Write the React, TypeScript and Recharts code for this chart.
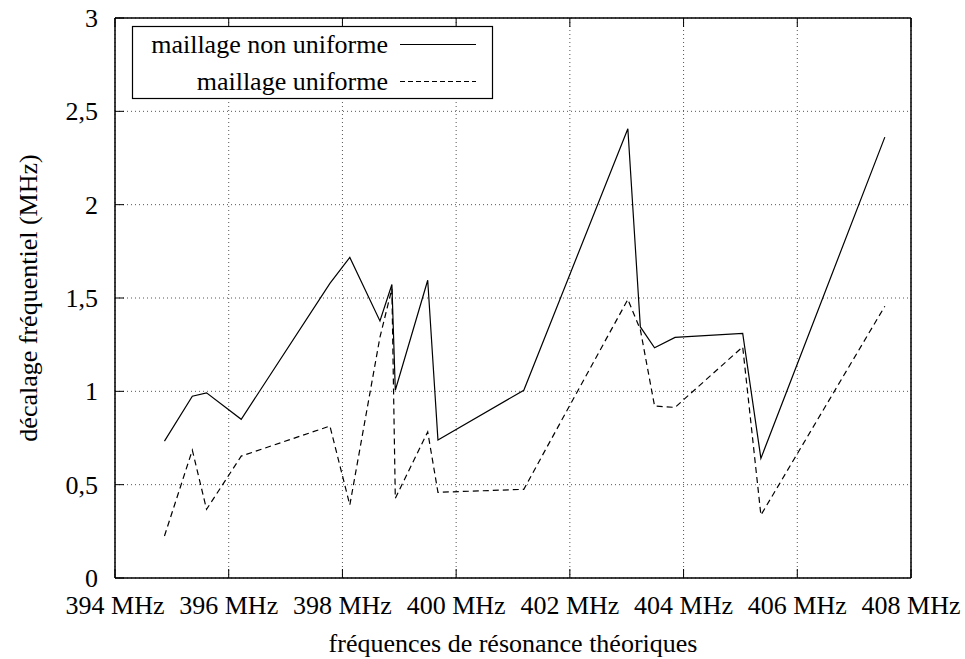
import React from 'react';
import { LineChart, Line, XAxis, YAxis, CartesianGrid } from 'recharts';

const frequencies = [
    394.87, 395.36, 395.61, 396.22, 397.78, 398.13, 398.66, 398.87, 398.93, 399.5,
    399.68, 401.19, 403.02, 403.24, 403.49, 403.85, 405.04, 405.36, 407.54,
];
const nonUniform = [
    0.733, 0.974, 0.992, 0.85, 1.578, 1.717, 1.377, 1.572, 1.006, 1.595,
    0.739, 1.006, 2.407, 1.345, 1.233, 1.289, 1.31, 0.641, 2.362,
];
const uniform = [
    0.225, 0.685, 0.368, 0.653, 0.814, 0.391, 1.29, 1.55, 0.427, 0.783,
    0.459, 0.475, 1.492, 1.33, 0.921, 0.914, 1.238, 0.337, 1.456,
];
const xTicks = [394, 396, 398, 400, 402, 404, 406, 408];
const yTicks = [0, 0.5, 1, 1.5, 2, 2.5, 3];
const seriesNames = ['maillage non uniforme', 'maillage uniforme'];
const xTitle = 'fréquences de résonance théoriques';
const yTitle = 'décalage fréquentiel (MHz)';

const W = 965;
const H = 659;
const FONT = 'Liberation Serif, Times New Roman, serif';
const FS = 26;
const TICK = 9;

const txt = { fontFamily: FONT, fontSize: FS };

const data = frequencies.map((f, i) => ({ f, nonUniform: nonUniform[i], uniform: uniform[i] }));

const fmtY = (v: number) => String(v).replace('.', ',');

const BottomTick = (props: any) => {
    const { x, y, payload } = props;
    return (
        <g>
            <line x1={x} y1={y} x2={x} y2={y - TICK} stroke="#000" strokeWidth={1} />
            <text x={x} y={y + 36} textAnchor="middle" style={txt} fill="#000">
                {payload.value} MHz
            </text>
        </g>
    );
};

const TopTick = (props: any) => {
    const { x, y } = props;
    return <line x1={x} y1={y} x2={x} y2={y + TICK} stroke="#000" strokeWidth={1} />;
};

const LeftTick = (props: any) => {
    const { x, y, payload } = props;
    return (
        <g>
            <line x1={x} y1={y} x2={x + TICK} y2={y} stroke="#000" strokeWidth={1} />
            <text x={x - 17} y={y + 9} textAnchor="end" style={txt} fill="#000">
                {fmtY(payload.value)}
            </text>
        </g>
    );
};

const RightTick = (props: any) => {
    const { x, y } = props;
    return <line x1={x} y1={y} x2={x - TICK} y2={y} stroke="#000" strokeWidth={1} />;
};

export default function App() {
    return (
        <div style={{ position: 'absolute', left: 0, top: 0, width: W, height: H, background: '#fff', fontFamily: FONT }}>
            <LineChart width={W} height={H} data={data} margin={{ top: 0, right: 0, bottom: 0, left: 0 }}>
                <CartesianGrid stroke="#555" strokeDasharray="1 3" />
                <XAxis
                    dataKey="f"
                    type="number"
                    domain={[394, 408]}
                    ticks={xTicks}
                    allowDataOverflow
                    height={81}
                    tickSize={0}
                    tickMargin={0}
                    tickLine={false}
                    tick={<BottomTick />}
                    axisLine={{ stroke: '#000', strokeWidth: 1.5 }}
                    label={{
                        content: (p: any) => (
                            <text
                                x={p.viewBox.x + p.viewBox.width / 2}
                                y={p.viewBox.y + 74}
                                textAnchor="middle"
                                style={txt}
                                fill="#000"
                            >
                                {xTitle}
                            </text>
                        ),
                    }}
                />
                <XAxis
                    xAxisId="top"
                    orientation="top"
                    dataKey="f"
                    type="number"
                    domain={[394, 408]}
                    ticks={xTicks}
                    height={18}
                    tickSize={0}
                    tickMargin={0}
                    tickLine={false}
                    tick={<TopTick />}
                    axisLine={{ stroke: '#000', strokeWidth: 1.5 }}
                />
                <YAxis
                    type="number"
                    domain={[0, 3]}
                    ticks={yTicks}
                    width={115}
                    tickSize={0}
                    tickMargin={0}
                    tickLine={false}
                    tick={<LeftTick />}
                    axisLine={{ stroke: '#000', strokeWidth: 1.5 }}
                    label={{
                        content: (p: any) => {
                            const cx = p.viewBox.x + 28;
                            const cy = p.viewBox.y + p.viewBox.height / 2;
                            return (
                                <text
                                    x={cx}
                                    y={cy}
                                    transform={`rotate(-90, ${cx}, ${cy})`}
                                    textAnchor="middle"
                                    dominantBaseline="central"
                                    style={txt}
                                    fill="#000"
                                >
                                    {yTitle}
                                </text>
                            );
                        },
                    }}
                />
                <YAxis
                    yAxisId="right"
                    orientation="right"
                    type="number"
                    domain={[0, 3]}
                    ticks={yTicks}
                    width={54}
                    tickSize={0}
                    tickMargin={0}
                    tickLine={false}
                    tick={<RightTick />}
                    axisLine={{ stroke: '#000', strokeWidth: 1.5 }}
                />
                <Line
                    type="linear"
                    dataKey="nonUniform"
                    name={seriesNames[0]}
                    stroke="#000"
                    strokeWidth={1.2}
                    dot={false}
                    isAnimationActive={false}
                />
                <Line
                    type="linear"
                    dataKey="uniform"
                    name={seriesNames[1]}
                    stroke="#000"
                    strokeWidth={1.2}
                    strokeDasharray="6 4"
                    dot={false}
                    isAnimationActive={false}
                />
            </LineChart>
            <svg width={W} height={H} style={{ position: 'absolute', left: 0, top: 0, pointerEvents: 'none' }}>
                <rect x={132.5} y={26.5} width={360} height={72} fill="#fff" stroke="#000" strokeWidth={1.2} />
                <text x={388} y={53} textAnchor="end" style={txt} fill="#000">
                    {seriesNames[0]}
                </text>
                <line x1={400} y1={44.5} x2={476} y2={44.5} stroke="#000" strokeWidth={1.2} />
                <text x={388} y={90} textAnchor="end" style={txt} fill="#000">
                    {seriesNames[1]}
                </text>
                <line x1={400} y1={81.5} x2={476} y2={81.5} stroke="#000" strokeWidth={1.2} strokeDasharray="5 3" />
            </svg>
        </div>
    );
}
